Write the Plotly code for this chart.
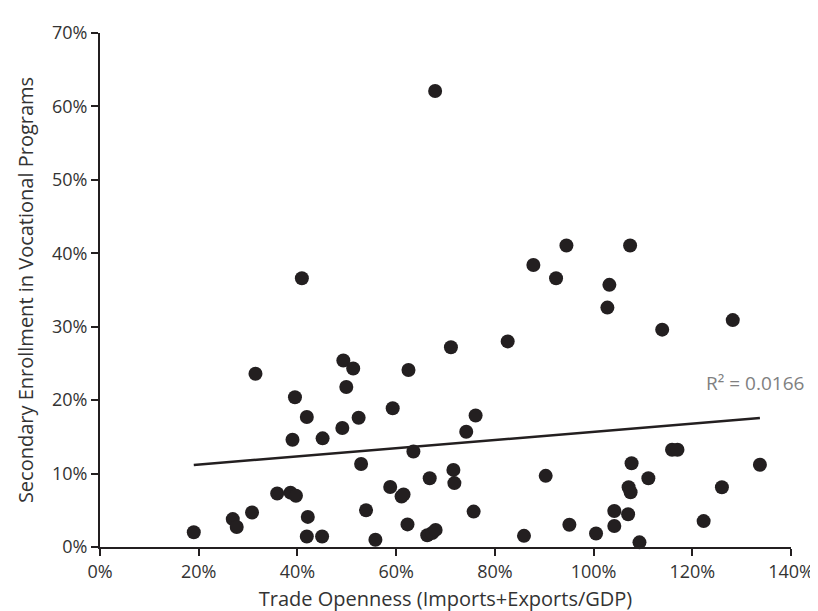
import numpy as np
import plotly.graph_objects as go

# Trade openness (fraction of GDP)
trade_openness = [
    0.190, 0.269, 0.277, 0.308, 0.315, 0.359, 0.386, 0.397, 0.390, 0.395,
    0.409, 0.419, 0.421, 0.419, 0.450, 0.451, 0.491, 0.493, 0.499, 0.513,
    0.524, 0.529, 0.539, 0.558, 0.588, 0.593, 0.611, 0.615, 0.623, 0.625,
    0.635, 0.663, 0.668, 0.673, 0.680, 0.679, 0.711, 0.716, 0.718, 0.742,
    0.757, 0.761, 0.826, 0.859, 0.878, 0.903, 0.924, 0.945, 0.951, 1.005,
    1.028, 1.032, 1.042, 1.042, 1.070, 1.071, 1.075, 1.074, 1.077, 1.093,
    1.111, 1.139, 1.159, 1.170, 1.223, 1.260, 1.282, 1.337,
]
# Secondary enrollment in vocational programs (fraction)
vocational_enrollment = [
    0.0200, 0.0380, 0.0273, 0.0469, 0.236, 0.0728, 0.0740, 0.0697, 0.146, 0.204,
    0.366, 0.177, 0.0410, 0.0143, 0.0143, 0.148, 0.162, 0.254, 0.218, 0.243,
    0.176, 0.113, 0.0500, 0.0099, 0.0817, 0.189, 0.0688, 0.0715, 0.0308, 0.241,
    0.130, 0.0161, 0.0937, 0.0190, 0.0233, 0.621, 0.272, 0.105, 0.0870, 0.157,
    0.0482, 0.179, 0.280, 0.0152, 0.384, 0.0969, 0.366, 0.4106, 0.0304, 0.0183,
    0.326, 0.357, 0.0491, 0.0286, 0.0447, 0.0813, 0.0746, 0.4106, 0.114, 0.0063,
    0.0937, 0.296, 0.1325, 0.1325, 0.0353, 0.0813, 0.309, 0.112,
]

x_ticks = [0, 0.2, 0.4, 0.6, 0.8, 1.0, 1.2, 1.4]
y_ticks = [0, 0.1, 0.2, 0.3, 0.4, 0.5, 0.6, 0.7]
r2_label = "R² = 0.0166"

x = np.array(trade_openness)
y = np.array(vocational_enrollment)
slope, intercept = np.polyfit(x, y, 1)
tx = np.array([x.min(), x.max()])
ty = slope * tx + intercept

dark = "#231f20"
text_col = "#333333"
font = "'Open Sans', sans-serif"

fig = go.Figure()
fig.add_trace(go.Scatter(
    x=trade_openness, y=vocational_enrollment, mode="markers",
    marker=dict(size=14, color=dark, line=dict(width=0)),
    showlegend=False, hoverinfo="x+y", cliponaxis=False,
))
fig.add_trace(go.Scatter(
    x=tx, y=ty, mode="lines", line=dict(color=dark, width=2.5),
    showlegend=False, hoverinfo="skip",
))

fig.add_annotation(
    x=1.022, y=0.224, xref="paper", yref="y", text=r2_label, showarrow=False,
    xanchor="right", yanchor="middle",
    font=dict(family=font, size=19, color="#808080"),
)

axis_common = dict(
    showgrid=False, zeroline=False, showline=True, linecolor=dark, linewidth=2,
    ticks="outside", tickcolor=dark, tickwidth=1.5, ticklen=7,
    tickformat=".0%", tickfont=dict(family=font, size=18, color=text_col),
)

fig.update_layout(
    width=818, height=611,
    margin=dict(l=92, r=26, t=18, b=70),
    paper_bgcolor="white", plot_bgcolor="white",
    xaxis=dict(range=[0, 1.4], tickvals=x_ticks, **axis_common,
               title=dict(text="Trade Openness (Imports+Exports/GDP)",
                          font=dict(family=font, size=20, color=text_col), standoff=10)),
    yaxis=dict(range=[0, 0.7], tickvals=y_ticks, **axis_common,
               title=dict(text="Secondary Enrollment in Vocational Programs",
                          font=dict(family=font, size=20, color=text_col), standoff=13)),
    font=dict(family=font, color=text_col),
)

fig.write_html("out.html")
